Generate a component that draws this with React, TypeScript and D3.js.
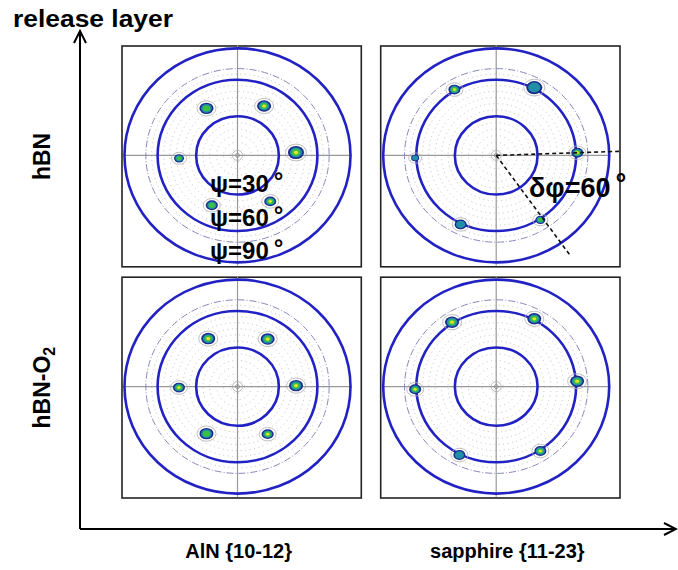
import React from "react";
import * as d3 from "d3";

const W = 678;
const H = 570;

// grid of the figure
const materials = ["AlN {10-12}", "sapphire {11-23}"];
const layers = ["hBN", "hBN-O2"];

// pole figure rings (psi, degrees)
const guidePsi = [30, 60, 90];
const dashedPsi = 70;
const dottedPsi = [5, 10, 15, 20, 25, 35, 40, 45, 50, 55, 65];

// psi of the reflections, per material
const spotPsi = [43, 61];

// phi of the six spots in each panel (deg, counter-clockwise from 3 o'clock)
const phiAlnHbn = [3, 63, 122, 183, 244, 304];
const phiSapHbn = [2, 62, 121, 182, 244, 303];
const phiAlnO2 = [1, 59, 120, 181, 238, 301];
const phiSapO2 = [4, 62, 123, 182, 243, 303];

// peak level of each spot (1 navy .. 4 red)
const lvlAlnHbn = [3, 3, 2, 2, 2, 3];
const lvlSapHbn = [3, 1, 4, 1, 1, 2];
const lvlAlnO2 = [3, 3, 3, 3, 2, 3];
const lvlSapO2 = [4, 3, 4, 3, 1, 3];

// spot size (px)
const sizeAlnHbn = [8, 7, 7, 5, 6, 6];
const sizeSapHbn = [6, 8, 6, 4, 6, 5];
const sizeAlnO2 = [7, 7, 7, 6, 7, 6];
const sizeSapO2 = [7, 7, 7, 6, 6, 6];

// dashed delta-phi lines in the sapphire/hBN panel
const deltaPhi = [2, 305];
const deltaLen = [1.11, 1.14];

const levelColors = ["#1c2a8c", "#1f8fa8", "#3cc043", "#e6e42a", "#e3301e"];
const blue = "#2222c4";
const font = "'Liberation Sans', Arial, sans-serif";

export default function App() {
  const col = d3.scaleBand().domain(materials).range([122, 620]).paddingInner(0.075);
  const row = d3.scaleBand().domain(layers).range([46, 498]).paddingInner(0.045);

  // equal-area projection: radius ~ sin(psi/2)
  const rad = d3.scaleLinear().domain([0, Math.SQRT1_2]).range([0, 1]);
  const RX = 113;
  const RY = 107;
  const f = (psi: number) => rad(Math.sin((psi * Math.PI) / 360));

  const panels = [
    { m: 0, l: 0, phi: phiAlnHbn, lvl: lvlAlnHbn, size: sizeAlnHbn },
    { m: 1, l: 0, phi: phiSapHbn, lvl: lvlSapHbn, size: sizeSapHbn },
    { m: 0, l: 1, phi: phiAlnO2, lvl: lvlAlnO2, size: sizeAlnO2 },
    { m: 1, l: 1, phi: phiSapO2, lvl: lvlSapO2, size: sizeSapO2 },
  ];

  const bw = col.bandwidth();
  const bh = row.bandwidth();

  return (
    <svg width={W} height={H} style={{ position: "absolute", left: 0, top: 0, background: "#fff" }}>
      {panels.map((p, i) => {
        const x0 = col(materials[p.m])!;
        const y0 = row(layers[p.l])!;
        const cx = x0 + 115.5;
        const cy = y0 + bh / 2 - 1;
        const psi = spotPsi[p.m];
        return (
          <g key={i}>
            <rect x={x0} y={y0} width={bw} height={bh} fill="#fff" stroke="#222" strokeWidth={1.6} />
            {dottedPsi.map((d) => (
              <ellipse key={d} cx={cx} cy={cy} rx={RX * f(d)} ry={RY * f(d)} fill="none"
                stroke="#b8b8b8" strokeWidth={0.9} strokeDasharray="1 3.5" />
            ))}
            <line x1={cx - RX * 1.01} x2={cx + RX * 1.01} y1={cy} y2={cy} stroke="#999" strokeWidth={1.2} />
            <line x1={cx} x2={cx} y1={cy - RY * 1.03} y2={cy + RY * 1.03} stroke="#999" strokeWidth={1.2} />
            <circle cx={cx} cy={cy} r={2} fill="none" stroke="#888" strokeWidth={0.8} />
            <circle cx={cx} cy={cy} r={5} fill="none" stroke="#aaa" strokeWidth={0.8} />
            <ellipse cx={cx} cy={cy} rx={RX * f(dashedPsi)} ry={RY * f(dashedPsi)} fill="none"
              stroke="#7a7ab4" strokeWidth={0.9} strokeDasharray="7 2 1 2" />
            {guidePsi.map((g) => (
              <ellipse key={g} cx={cx} cy={cy} rx={RX * f(g)} ry={RY * f(g)} fill="none"
                stroke={blue} strokeWidth={2.6} />
            ))}
            {p.phi.map((ph, j) => {
              const a = (ph * Math.PI) / 180;
              const sx = cx + RX * f(psi) * Math.cos(a);
              const sy = cy - RY * f(psi) * Math.sin(a);
              const s = p.size[j];
              return (
                <g key={j}>
                  <ellipse cx={sx} cy={sy} rx={s + 2.5} ry={s * 0.8 + 2} fill="none" stroke="#b0b0b0" strokeWidth={0.8} />
                  {d3.range(p.lvl[j] + 1).map((k) => (
                    <ellipse key={k} cx={sx} cy={sy} rx={s * (1 - k * 0.24)} ry={s * 0.82 * (1 - k * 0.24)}
                      fill={levelColors[k]} />
                  ))}
                </g>
              );
            })}
            {p.m === 1 && p.l === 0 &&
              deltaPhi.map((d, k) => {
                const a = (d * Math.PI) / 180;
                return (
                  <line key={k} x1={cx} y1={cy} x2={cx + RX * deltaLen[k] * Math.cos(a)}
                    y2={cy - RY * deltaLen[k] * Math.sin(a)} stroke="#111" strokeWidth={1.6} strokeDasharray="4 3" />
                );
              })}
          </g>
        );
      })}

      {/* psi labels */}
      {guidePsi.map((g, i) => (
        <text key={g} x={210} y={192 + i * 33.5} fontFamily={font} fontWeight="bold" fontSize={24} fill="#000">
          {`ψ=${g}`}
          <tspan dx={5} dy={-3}>°</tspan>
        </text>
      ))}
      <text x={529} y={197} fontFamily={font} fontWeight="bold" fontSize={27} fill="#000">
        δφ=60<tspan dx={5} dy={-4}>°</tspan>
      </text>

      {/* axes */}
      <path d="M80,529 V31 M74,43 L80,31 L86,43" fill="none" stroke="#000" strokeWidth={2} />
      <path d="M80,529 H676 M664,523 L676,529 L664,535" fill="none" stroke="#000" strokeWidth={2} />

      <text x={13} y={27} fontFamily={font} fontWeight="bold" fontSize={23} textLength={160}
        lengthAdjust="spacingAndGlyphs">release layer</text>

      {materials.map((m, i) => (
        <text key={m} x={col(m)! + bw / 2 + (i === 0 ? -3 : 7)} y={558} textAnchor="middle"
          fontFamily={font} fontWeight="bold" fontSize={20}>{m}</text>
      ))}

      <text transform={`translate(50,${row(layers[0])! + bh / 2}) rotate(-90)`} textAnchor="middle"
        fontFamily={font} fontWeight="bold" fontSize={23}>hBN</text>
      <text transform={`translate(50,${row(layers[1])! + bh / 2}) rotate(-90)`} textAnchor="middle"
        fontFamily={font} fontWeight="bold" fontSize={23}>
        hBN-O<tspan dy={5} fontSize={16}>2</tspan>
      </text>
    </svg>
  );
}
